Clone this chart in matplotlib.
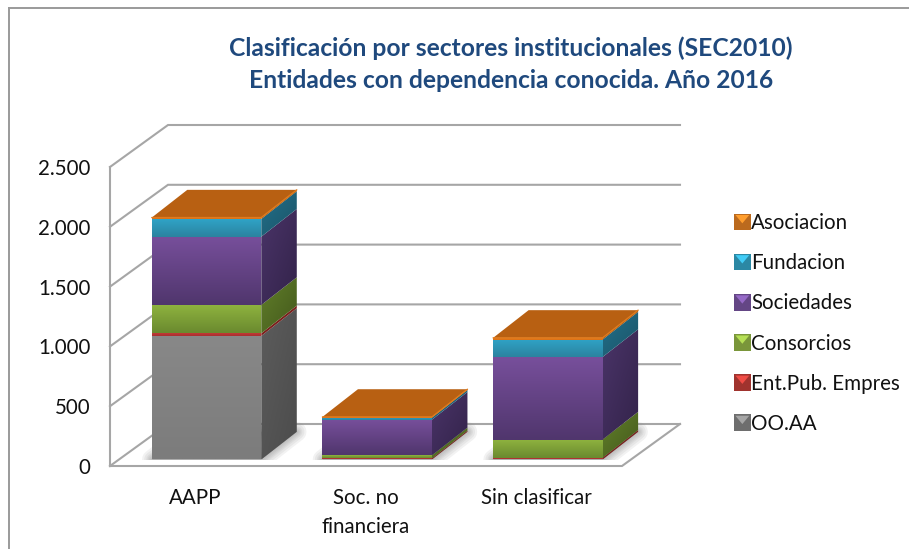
import numpy as np
import matplotlib
matplotlib.use("Agg")
import matplotlib.pyplot as plt
from matplotlib.patches import Polygon, Rectangle
from matplotlib.legend_handler import HandlerBase
from matplotlib.lines import Line2D
from matplotlib.colors import to_rgb

W, H = 909, 549
FONT = "Lato"

title = "Clasificación por sectores institucionales (SEC2010)\nEntidades con dependencia conocida. Año 2016"
categories = ["AAPP", "Soc. no\nfinanciera", "Sin clasificar"]
series_names = ["OO.AA", "Ent.Pub. Empres", "Consorcios", "Sociedades", "Fundacion", "Asociacion"]
oo_aa = [1033, 0, 0]
ent_pub = [22, 10, 15]
consorcios = [237, 25, 152]
sociedades = [571, 298, 690]
fundacion = [148, 18, 146]
asociacion = [12, 5, 14]
yticks = [0, 500, 1000, 1500, 2000, 2500]
ylabels = ["0", "500", "1.000", "1.500", "2.000", "2.500"]

# front colour top, front bottom, side light, side dark, legend colour
palette = [
    ("#888888", "#7c7c7c", "#5c5c5c", "#4c4c4c", "#8a8a8a"),
    ("#c23a36", "#a83030", "#8a2522", "#6e1c1a", "#c8403a"),
    ("#8fb33f", "#6a8a2f", "#617f2a", "#44591c", "#98bb48"),
    ("#774f9b", "#50366d", "#4a3468", "#33234a", "#7d58a6"),
    ("#2fa3c6", "#2b83a0", "#22708a", "#1b5468", "#36aacd"),
    ("#e57c1f", "#d97016", "#a8580f", "#96500e", "#ea8426"),
]
top_colour = "#b86012"
grid_colour = "#a6a6a6"

fig = plt.figure(figsize=(W / 100, H / 100), dpi=100, facecolor="white")
ax = fig.add_axes([110 / W, 1 - 466 / H, (622 - 110) / W, (466 - 167) / H])
ax.set_facecolor("none")

PXX = 512 / 3          # pixels per category
PXY = 299 / 2500       # pixels per value unit
WALL_DX, WALL_DY = 58 / PXX, 42 / PXY
BAR_X0, BAR_V0 = 11.2 / PXX, 6.5 / PXY     # bar front offset from the front plane
BAR_DX, BAR_DY = 35.5 / PXX, 27.7 / PXY    # bar depth
BAR_W = 109.5 / PXX
XMIN, XMAX = -0.5, 2.5


def gradient(poly_xy, colour_a, colour_b, z, diagonal=False):
    """Fill a polygon (data coords) with a vertical / diagonal gradient."""
    xy = np.array(poly_xy)
    a, b = np.array(to_rgb(colour_a)), np.array(to_rgb(colour_b))
    n = 40
    vv, uu = np.mgrid[0:1:n * 1j, 0:1:n * 1j]
    t = (vv + uu) / 2 if diagonal else vv
    img = a[None, None, :] * (1 - t[..., None]) + b[None, None, :] * t[..., None]
    im = ax.imshow(img, extent=[xy[:, 0].min(), xy[:, 0].max(), xy[:, 1].min(), xy[:, 1].max()],
                   origin="upper", aspect="auto", interpolation="bilinear", zorder=z)
    patch = Polygon(xy, closed=True, transform=ax.transData, facecolor="none", edgecolor="none")
    im.set_clip_path(patch)
    im.set_clip_box(fig.bbox)
    return im


# walls, floor, gridlines
for v in yticks:
    ax.plot([XMIN, XMIN + WALL_DX, XMAX + WALL_DX], [v, v + WALL_DY, v + WALL_DY],
            color=grid_colour, lw=1.5, clip_on=False, zorder=1, solid_joinstyle="miter")
ax.plot([XMIN, XMIN], [0, 2500], color=grid_colour, lw=1.5, clip_on=False, zorder=1)
ax.plot([XMIN, XMAX, XMAX + WALL_DX], [0, 0, WALL_DY], color=grid_colour, lw=1.5,
        clip_on=False, zorder=1, solid_joinstyle="miter")

# bars
values = [oo_aa, ent_pub, consorcios, sociedades, fundacion, asociacion]
base_clip = Rectangle((XMIN, BAR_V0), 4, 2500, transform=ax.transData)
for i in range(len(categories)):
    x0 = i - BAR_W / 2 + BAR_X0
    x1 = x0 + BAR_W
    # floor shadow
    shadow = [(x0, BAR_V0), (x1, BAR_V0), (x1 + BAR_DX, BAR_V0 + BAR_DY),
              (x0 + BAR_DX, BAR_V0 + BAR_DY)]
    for lw in (14, 11, 8, 6, 4, 2):
        p = Polygon(shadow, closed=True, facecolor="#808080", edgecolor="#808080", alpha=0.10,
                    lw=lw, joinstyle="round", zorder=2, clip_on=True)
        ax.add_patch(p)
        p.set_clip_path(base_clip)
    bottom = BAR_V0
    z = 3 + i
    for s, vals in enumerate(values):
        v = vals[i]
        if v <= 0:
            continue
        top = bottom + v
        ft, fb, sl, sd, _ = palette[s]
        gradient([(x1, bottom), (x1 + BAR_DX, bottom + BAR_DY), (x1 + BAR_DX, top + BAR_DY), (x1, top)],
                 sl, sd, z, diagonal=True)
        gradient([(x0, bottom), (x1, bottom), (x1, top), (x0, top)], ft, fb, z + 0.1)
        bottom = top
    ax.add_patch(Polygon([(x0, bottom), (x1, bottom), (x1 + BAR_DX, bottom + BAR_DY),
                          (x0 + BAR_DX, bottom + BAR_DY)], closed=True, facecolor=top_colour,
                         edgecolor="none", zorder=z + 0.2, clip_on=False))
    ax.plot([x0, x1, x1 + BAR_DX], [bottom, bottom, bottom + BAR_DY], color="#e07a1c", lw=1.0,
            zorder=z + 0.3, clip_on=False, solid_capstyle="round")

ax.set_xlim(XMIN, XMAX)
ax.set_ylim(0, 2500)
for sp in ax.spines.values():
    sp.set_visible(False)
ax.set_xticks(range(3), categories)
ax.set_yticks(yticks, ylabels)
ax.tick_params(axis="both", length=0, labelsize=14.8, labelcolor="#111111")
ax.tick_params(axis="y", pad=14)
ax.tick_params(axis="x", pad=16)
for t in ax.get_xticklabels() + ax.get_yticklabels():
    t.set_fontfamily(FONT)
    t.set_linespacing(1.55)

fig.text(511 / W, 1 - 64 / H, title, ha="center", va="center", fontsize=17.7, fontweight="bold",
         family=FONT, color="#1f497d", linespacing=1.5)


class BevelHandler(HandlerBase):
    def create_artists(self, legend, orig_handle, xd, yd, width, height, fontsize, trans):
        c = np.array(to_rgb(orig_handle.get_facecolor()))
        size = 12
        x, y = xd * -1, -yd + (height - size) / 2
        box = Rectangle((x, y), size, size, facecolor=c * 0.8, edgecolor="none", transform=trans)
        tri = Polygon([(x + 1, y + size - 1), (x + size - 1, y + size - 1), (x + size / 2, y + 5)],
                      closed=True, facecolor=np.minimum(c * 1.2, 1), edgecolor="none", transform=trans)
        return [box, tri]


handles = [Rectangle((0, 0), 1, 1, facecolor=palette[s][4]) for s in range(6)][::-1]
leg = fig.legend(handles, series_names[::-1], loc="center left",
                 bbox_to_anchor=(734 / W, 1 - 323.5 / H), frameon=False,
                 prop={"family": FONT, "size": 14.8}, labelspacing=0.98, handlelength=0.72,
                 handletextpad=0.12, borderpad=0, borderaxespad=0,
                 handler_map={Rectangle: BevelHandler()})
for t in leg.get_texts():
    t.set_color("#111111")

# outer chart frame
fig.add_artist(Line2D([8.5 / W, 8.5 / W], [0, 1 - 8 / H], color="#9a9a9a", lw=1.4))
fig.add_artist(Line2D([8.5 / W, 1], [1 - 8 / H, 1 - 8 / H], color="#9a9a9a", lw=1.4))

fig.savefig("out.png", dpi=100, facecolor="white")
